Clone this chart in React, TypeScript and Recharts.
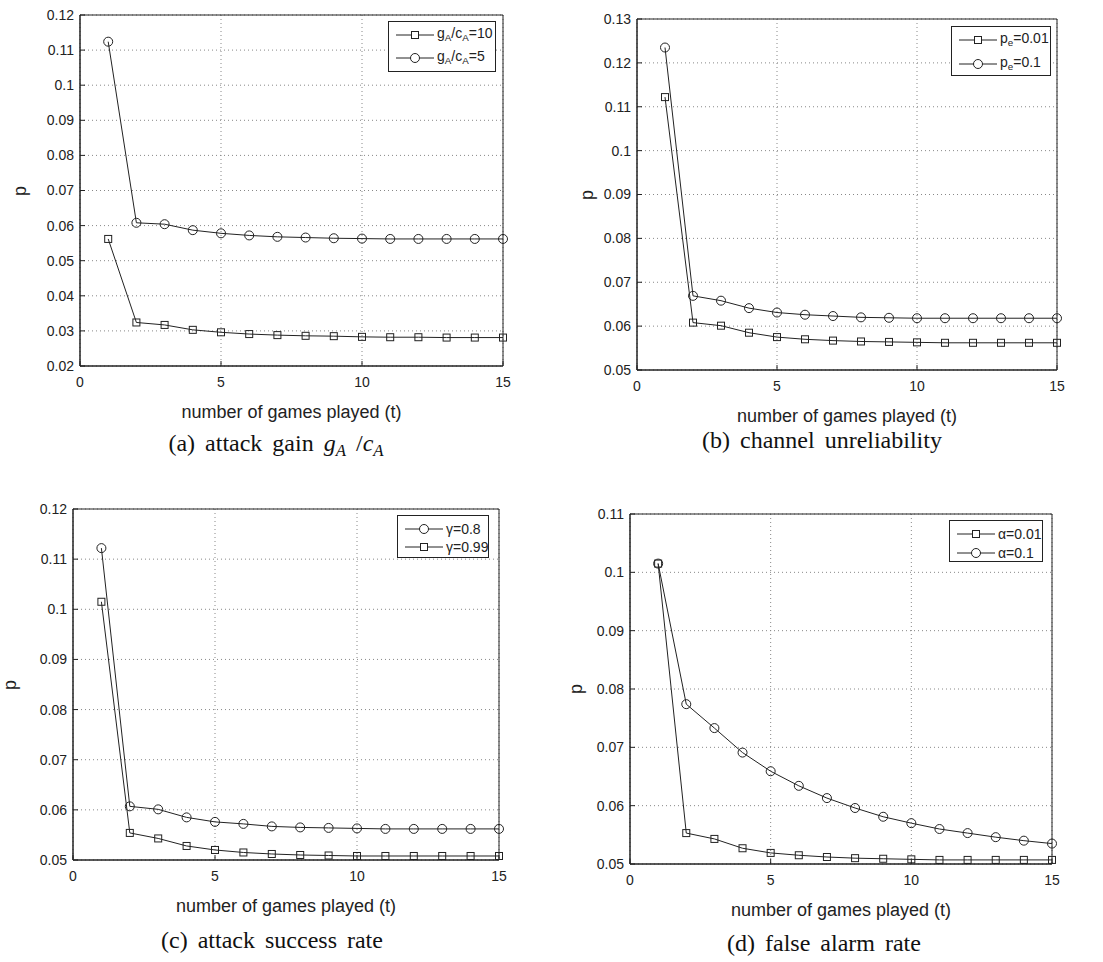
import React from 'react';
import { LineChart, Line, XAxis, YAxis, CartesianGrid, ReferenceArea } from 'recharts';

// games played (t)
const games = [1, 2, 3, 4, 5, 6, 7, 8, 9, 10, 11, 12, 13, 14, 15];
const xTicks = [0, 5, 10, 15];

// (a) attack gain
const gainTen = [0.0562, 0.0324, 0.0317, 0.0303, 0.0296, 0.0291, 0.0288, 0.0286, 0.0285, 0.0283, 0.0282, 0.0282, 0.0281, 0.0281, 0.0281];
const gainFive = [0.1124, 0.0608, 0.0604, 0.0587, 0.0578, 0.0572, 0.0568, 0.0566, 0.0564, 0.0563, 0.0562, 0.0562, 0.0562, 0.0562, 0.0562];
const yTicksA = [0.02, 0.03, 0.04, 0.05, 0.06, 0.07, 0.08, 0.09, 0.1, 0.11, 0.12];

// (b) channel unreliability
const peLow = [0.1122, 0.0608, 0.0601, 0.0585, 0.0575, 0.057, 0.0567, 0.0565, 0.0564, 0.0563, 0.0562, 0.0562, 0.0562, 0.0562, 0.0562];
const peHigh = [0.1235, 0.0669, 0.0658, 0.0641, 0.0631, 0.0626, 0.0623, 0.062, 0.0619, 0.0618, 0.0618, 0.0618, 0.0618, 0.0618, 0.0618];
const yTicksB = [0.05, 0.06, 0.07, 0.08, 0.09, 0.1, 0.11, 0.12, 0.13];

// (c) attack success rate
const gammaLow = [0.1122, 0.0607, 0.0601, 0.0585, 0.0576, 0.0572, 0.0567, 0.0565, 0.0564, 0.0563, 0.0562, 0.0562, 0.0562, 0.0562, 0.0562];
const gammaHigh = [0.1015, 0.0554, 0.0543, 0.0528, 0.052, 0.0515, 0.0512, 0.051, 0.0509, 0.0508, 0.0508, 0.0508, 0.0508, 0.0508, 0.0508];
const yTicksC = [0.05, 0.06, 0.07, 0.08, 0.09, 0.1, 0.11, 0.12];

// (d) false alarm rate
const alphaLow = [0.1015, 0.0553, 0.0543, 0.0527, 0.0519, 0.0515, 0.0512, 0.051, 0.0509, 0.0508, 0.0507, 0.0507, 0.0507, 0.0507, 0.0507];
const alphaHigh = [0.1015, 0.0774, 0.0733, 0.0691, 0.0659, 0.0634, 0.0613, 0.0596, 0.0581, 0.057, 0.056, 0.0553, 0.0546, 0.054, 0.0535];
const yTicksD = [0.05, 0.06, 0.07, 0.08, 0.09, 0.1, 0.11];

const INK = '#222';
const SANS = '"Liberation Sans", Arial, sans-serif';
const SERIF = '"Liberation Serif", "Times New Roman", serif';

type Marker = 'square' | 'circle';
interface Series { values: number[]; marker: Marker; label: React.ReactNode }

const squareDot = (props: any) => {
  const { cx, cy, index } = props;
  return <rect key={`sq-${index}`} x={cx - 3.5} y={cy - 3.5} width={7} height={7} fill="none" stroke={INK} strokeWidth={1} />;
};
const circleDot = { r: 4.5, fill: 'none', stroke: INK, strokeWidth: 1 };

const fmt = (v: number) => String(Number(v.toFixed(2)));

function LegendIcon({ marker }: { marker: Marker }) {
  return (
    <svg width={38} height={12} style={{ display: 'block' }}>
      <line x1={0} y1={6} x2={38} y2={6} stroke={INK} strokeWidth={1} />
      {marker === 'square'
        ? <rect x={15.5} y={2.5} width={7} height={7} fill="white" stroke={INK} strokeWidth={1} />
        : <circle cx={19} cy={6} r={4.5} fill="white" stroke={INK} strokeWidth={1} />}
    </svg>
  );
}

interface PanelProps {
  plot: { left: number; top: number; right: number; bottom: number };
  yTicks: number[];
  series: Series[];
  legend: { left: number; top: number; width: number; height: number; gap: number };
  ylabelX: number;
  caption: React.ReactNode;
  captionX: number;
  captionY: number;
}

function Panel({ plot, yTicks, series, legend, ylabelX, caption, captionX, captionY }: PanelProps) {
  const data = games.map((t, i) => {
    const row: Record<string, number> = { t };
    series.forEach((s, k) => { row[`s${k}`] = s.values[i]; });
    return row;
  });
  const plotW = plot.right - plot.left;
  const plotH = plot.bottom - plot.top;
  const yMin = yTicks[0];
  const yMax = yTicks[yTicks.length - 1];
  const midX = (plot.left + plot.right) / 2;
  const midY = (plot.top + plot.bottom) / 2;

  return (
    <>
      <div style={{ position: 'absolute', left: plot.left - 70, top: plot.top - 10 }}>
        <LineChart width={plotW + 80} height={plotH + 50} data={data}
          margin={{ top: 10, right: 10, left: 0, bottom: 10 }}>
          <CartesianGrid stroke="#888" strokeDasharray="1 3" horizontalValues={yTicks} verticalValues={xTicks} />
          <XAxis dataKey="t" type="number" domain={[0, 15]} ticks={xTicks} interval={0} height={30}
            axisLine={{ stroke: INK }} tickLine={{ stroke: INK }} tickSize={-5} tickMargin={16}
            tick={{ fill: INK, fontSize: 14, fontFamily: SANS }} />
          <YAxis type="number" domain={[yMin, yMax]} ticks={yTicks} interval={0} width={70}
            allowDataOverflow axisLine={{ stroke: INK }} tickLine={{ stroke: INK }} tickSize={-5} tickMargin={11}
            tickFormatter={fmt} tick={{ fill: INK, fontSize: 14, fontFamily: SANS }} />
          <ReferenceArea x1={0} x2={15} y1={yMin} y2={yMax} fill="none" stroke={INK} strokeWidth={1} fillOpacity={0} />
          {series.map((s, k) => (
            <Line key={k} dataKey={`s${k}`} type="linear" stroke={INK} strokeWidth={1}
              dot={s.marker === 'square' ? squareDot : circleDot} activeDot={false} isAnimationActive={false} />
          ))}
        </LineChart>
      </div>
      <div style={{
        position: 'absolute', left: legend.left, top: legend.top, width: legend.width, height: legend.height,
        boxSizing: 'border-box', border: `1px solid ${INK}`, background: 'white', fontFamily: SANS, fontSize: 14, color: INK,
      }}>
        {series.map((s, k) => (
          <div key={k} style={{ position: 'absolute', left: 7, top: 6 + k * legend.gap, display: 'flex', alignItems: 'center', height: 14 }}>
            <LegendIcon marker={s.marker} />
            <span style={{ marginLeft: 3, whiteSpace: 'nowrap', lineHeight: '14px' }}>{s.label}</span>
          </div>
        ))}
      </div>
      <div style={{ position: 'absolute', left: midX - 150, width: 300, top: plot.bottom + 37, textAlign: 'center', fontFamily: SANS, fontSize: 18, lineHeight: '18px', color: INK }}>
        number of games played (t)
      </div>
      <div style={{ position: 'absolute', left: ylabelX - 7, top: midY - 7, width: 14, height: 14, textAlign: 'center', fontFamily: SANS, fontSize: 18, lineHeight: '14px', color: INK, transform: 'rotate(-90deg)' }}>
        p
      </div>
      <div style={{ position: 'absolute', left: captionX - 200, width: 400, top: captionY - 14, textAlign: 'center', fontFamily: SERIF, fontSize: 24, lineHeight: '28px', wordSpacing: 4, color: '#111' }}>
        {caption}
      </div>
    </>
  );
}

const sub = (s: string) => <sub style={{ fontSize: '0.7em', verticalAlign: '-0.3em' }}>{s}</sub>;
const isub = (s: string) => <sub style={{ fontSize: '0.7em', verticalAlign: '-0.3em', fontStyle: 'italic' }}>{s}</sub>;

export default function App() {
  return (
    <div style={{ position: 'absolute', left: 0, top: 0, width: 1103, height: 962, background: 'white', overflow: 'hidden' }}>
      <Panel
        plot={{ left: 80, top: 15, right: 503, bottom: 366 }}
        yTicks={yTicksA}
        series={[
          { values: gainTen, marker: 'square', label: <>g{sub('A')}/c{sub('A')}=10</> },
          { values: gainFive, marker: 'circle', label: <>g{sub('A')}/c{sub('A')}=5</> },
        ]}
        legend={{ left: 388, top: 21, width: 108, height: 51, gap: 23 }}
        ylabelX={20}
        caption={<>(a) attack gain <i>g</i>{isub('A')} /<i>c</i>{isub('A')}</>}
        captionX={276} captionY={443}
      />
      <Panel
        plot={{ left: 637, top: 19, right: 1057, bottom: 370 }}
        yTicks={yTicksB}
        series={[
          { values: peLow, marker: 'square', label: <>p{sub('e')}=0.01</> },
          { values: peHigh, marker: 'circle', label: <>p{sub('e')}=0.1</> },
        ]}
        legend={{ left: 951, top: 26, width: 100, height: 50, gap: 24 }}
        ylabelX={587}
        caption={<>(b) channel unreliability</>}
        captionX={822} captionY={440}
      />
      <Panel
        plot={{ left: 73, top: 509, right: 499, bottom: 860 }}
        yTicks={yTicksC}
        series={[
          { values: gammaLow, marker: 'circle', label: <>γ=0.8</> },
          { values: gammaHigh, marker: 'square', label: <>γ=0.99</> },
        ]}
        legend={{ left: 397, top: 515, width: 92, height: 43, gap: 18 }}
        ylabelX={10}
        caption={<>(c) attack success rate</>}
        captionX={272} captionY={940}
      />
      <Panel
        plot={{ left: 630, top: 514, right: 1052, bottom: 864 }}
        yTicks={yTicksD}
        series={[
          { values: alphaLow, marker: 'square', label: <>α=0.01</> },
          { values: alphaHigh, marker: 'circle', label: <>α=0.1</> },
        ]}
        legend={{ left: 949, top: 520, width: 94, height: 42, gap: 19 }}
        ylabelX={576}
        caption={<>(d) false alarm rate</>}
        captionX={824} captionY={943}
      />
    </div>
  );
}
